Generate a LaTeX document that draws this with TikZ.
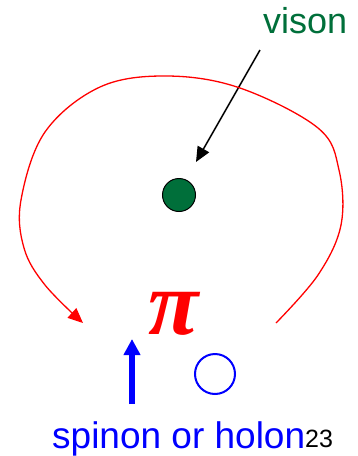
\documentclass[tikz,border=0pt]{standalone}
\usepackage{fontspec}
\setmainfont{Liberation Sans}
\newfontfamily\piserif{Liberation Serif}
\usetikzlibrary{arrows.meta}
\definecolor{visongreen}{HTML}{006F3A}
\begin{document}
\begin{tikzpicture}[x=1pt,y=-1pt,
  lbl/.style={inner sep=0pt, anchor=base west},
  loopline/.style={draw=red, line width=1.3pt, -{Triangle[length=15pt,width=13pt]}},
]
\useasboundingbox (0,0) rectangle (358,456);
% vison
\node[lbl, text=visongreen, font=\fontsize{36}{40}\selectfont] (vlab) at (263,33) {vison};
\node[circle, draw=black, line width=1pt, fill=visongreen, minimum size=33pt, inner sep=0pt] (vis) at (179,195) {};
\coordinate (vstart) at (260,50);
\coordinate (vtip) at (196,162);
\draw[line width=1.5pt, -{Triangle[length=15pt,width=13pt]}] (vstart) -- (vtip);
% red loop
\coordinate (r0) at (276,323);
\coordinate (r9) at (83,323);
\draw[loopline] plot[smooth, tension=0.6] coordinates {(r0) (318,275) (341,225) (339,170) (318,128) (240,88) (167,76) (100,87) (45,132) (21,200) (24,248) (45,285) (r9)};
% pi
\node[inner sep=0pt, anchor=base, text=red, font=\piserif\bfseries\itshape\fontsize{92}{100}\selectfont] (pi) at (174,334) {π};
% spinon
\coordinate (bstart) at (132,404);
\coordinate (btip) at (132,339);
\draw[draw=blue, line width=5.5pt, -{Triangle[length=16pt,width=16pt]}] (bstart) -- (btip);
\node[circle, draw=blue, line width=2pt, minimum size=40pt, inner sep=0pt] (sp) at (215,374) {};
\node[lbl, text=blue, font=\fontsize{37}{40}\selectfont] (slab) at (52,448) {spinon or holon};
\node[lbl, text=black, font=\fontsize{25}{28}\selectfont] (num) at (305,447) {23};
\end{tikzpicture}
\end{document}
